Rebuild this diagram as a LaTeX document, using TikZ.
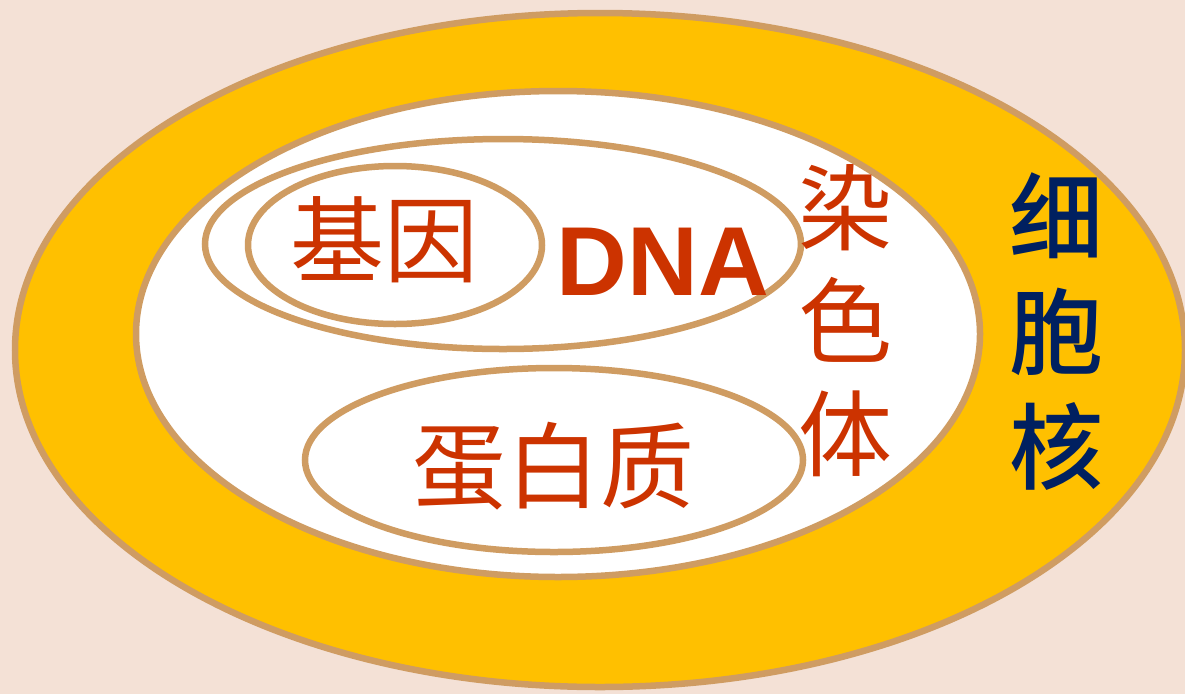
\documentclass[tikz,border=0pt]{standalone}
\usepackage{fontspec}
\setmainfont{Liberation Sans}
\newfontfamily\cjk{Noto Sans CJK SC}
\newfontfamily\cjkm{Noto Sans CJK SC Medium}
\definecolor{bg}{HTML}{F4E1D6}
\definecolor{gold}{HTML}{FFC000}
\definecolor{rim}{HTML}{CF9C62}
\definecolor{redtxt}{HTML}{CC3300}
\definecolor{navy}{HTML}{002060}
\tikzset{
  ring/.style={draw=rim, line width=6.5pt},
  redlabel/.style={text=redtxt, inner sep=0pt, font=\cjk\fontsize{94}{94}\selectfont},
  vredlabel/.style={text=redtxt, inner sep=0pt, align=center, font=\cjk\fontsize{94}{113}\selectfont},
  vnavylabel/.style={text=navy, inner sep=0pt, align=center, font=\cjkm\fontsize{94}{115}\selectfont},
  dnalabel/.style={text=redtxt, inner sep=0pt, font=\bfseries\fontsize{98}{98}\selectfont}
}
\begin{document}
\begin{tikzpicture}[x=1pt,y=-1pt]
\useasboundingbox (0,0) rectangle (1185,694);
\fill[bg] (0,0) rectangle (1185,694);
% nucleus
\draw[ring, fill=gold] (600,350) ellipse (585 and 337);
% chromosome
\draw[ring, fill=white] (558,334) ellipse (422 and 243);
% DNA
\draw[ring] (503,244) ellipse (298 and 105);
% gene
\draw[ring] (395,245) ellipse (147 and 79);
% protein
\draw[ring] (554,460) ellipse (249 and 92);
% labels
\node[redlabel] (gene) at (384,240) {基因};
\node[dnalabel] (dna) at (663,262) {DNA};
\node[redlabel] (protein) at (553,466) {蛋白质};
\node[vredlabel] (chrom) at (845,321) {染\\色\\体};
\node[vnavylabel] (nucleus) at (1056,332) {细\\胞\\核};
\end{tikzpicture}
\end{document}
